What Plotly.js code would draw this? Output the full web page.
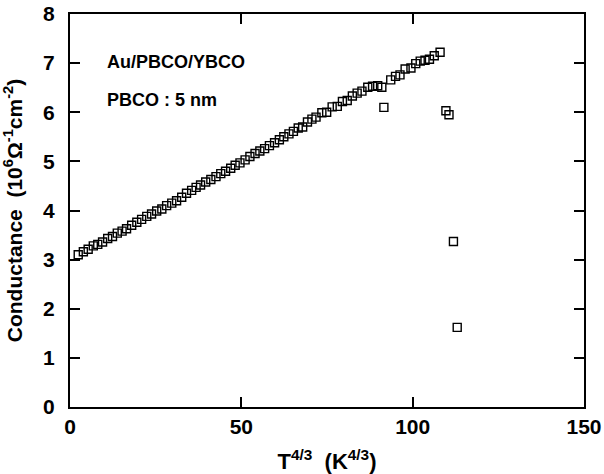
<!DOCTYPE html>
<html>
<head>
<meta charset="utf-8">
<script src="https://cdn.plot.ly/plotly-3.0.1.min.js"></script>
<style>html,body{margin:0;padding:0;background:#fff;}#chart{width:604px;height:474px;}</style>
</head>
<body>
<div id="chart"></div>
<script>
const tValues = [2.4,3.9,5.3,6.8,8.1,9.5,11.0,12.4,13.8,15.2,16.5,18.0,19.5,20.9,22.4,23.8,25.3,26.8,28.2,29.7,31.1,32.6,34.0,35.5,36.8,38.1,39.6,41.1,42.6,44.0,45.4,46.9,48.2,49.6,51.1,52.5,54.0,55.4,56.8,58.2,59.7,61.1,62.4,63.9,65.2,66.6,67.9,69.3,70.6,71.8,73.5,74.9,76.5,78.0,79.5,80.9,82.4,83.8,85.2,86.9,88.3,89.8,91.0,91.6,93.6,95.0,96.3,97.8,99.5,100.9,102.2,103.6,104.9,106.3,108.0,109.7,110.6,111.9,113.0];
const conductance = [3.10,3.16,3.21,3.28,3.31,3.36,3.43,3.47,3.54,3.58,3.63,3.70,3.76,3.82,3.88,3.93,3.99,4.03,4.10,4.15,4.20,4.27,4.35,4.41,4.47,4.52,4.58,4.63,4.69,4.75,4.80,4.86,4.92,4.97,5.03,5.10,5.16,5.21,5.26,5.32,5.38,5.44,5.50,5.56,5.61,5.68,5.70,5.80,5.86,5.90,5.99,6.00,6.11,6.12,6.22,6.24,6.33,6.39,6.43,6.51,6.53,6.54,6.51,6.10,6.66,6.73,6.76,6.88,6.90,6.99,7.04,7.06,7.08,7.15,7.22,6.03,5.95,3.37,1.62];
const labels = ["Au/PBCO/YBCO", "PBCO : 5 nm"];

const F = "Liberation Sans, Arial, sans-serif";
const trace = {
  x: tValues, y: conductance, type: 'scatter', mode: 'markers',
  marker: {symbol: 'square-open', size: 8, color: '#000', line: {width: 1.4, color: '#000'}},
  hoverinfo: 'none', showlegend: false
};
const layout = {
  width: 604, height: 474,
  margin: {l: 70, r: 20, t: 14, b: 67},
  plot_bgcolor: '#fff',
  xaxis: {
    range: [0, 150], dtick: 50, showline: true, linecolor: '#000', linewidth: 2, mirror: 'ticks',
    ticks: 'inside', ticklen: 10, tickwidth: 2, tickcolor: '#000', showgrid: false, zeroline: false,
    tickfont: {family: F, size: 21, color: '#000', weight: 'bold'},
    title: {text: 'T<sup>4/3</sup>  (K<sup>4/3</sup>)', font: {family: F, size: 22, color: '#000', weight: 'bold'}}
  },
  yaxis: {
    range: [0, 8], dtick: 1, showline: true, linecolor: '#000', linewidth: 2, mirror: 'ticks',
    ticks: 'inside', ticklen: 10, tickwidth: 2, tickcolor: '#000', showgrid: false, zeroline: false,
    ticklabelstandoff: 9,
    tickfont: {family: F, size: 21, color: '#000', weight: 'bold'},
    title: {text: 'Conductance  (10<sup>6</sup>Ω<sup>-1</sup>cm<sup>-2</sup>)', font: {family: F, size: 21, color: '#000', weight: 'bold'}}
  },
  annotations: [
    {text: labels[0], x: 0.068, xref: 'paper', y: 7.03, yref: 'y', xanchor: 'left', yanchor: 'middle', showarrow: false, font: {family: F, size: 18, color: '#000', weight: 'bold'}},
    {text: labels[1], x: 0.068, xref: 'paper', y: 6.25, yref: 'y', xanchor: 'left', yanchor: 'middle', showarrow: false, font: {family: F, size: 18, color: '#000', weight: 'bold'}}
  ]
};
Plotly.newPlot('chart', [trace], layout, {staticPlot: true});
</script>
</body>
</html>
